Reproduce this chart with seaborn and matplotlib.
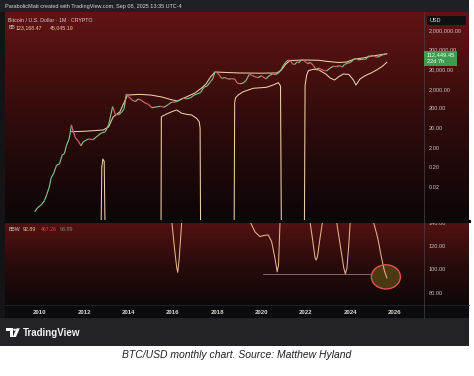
import numpy as np
import pandas as pd
import matplotlib
matplotlib.use("Agg")
import matplotlib.pyplot as plt
import seaborn as sns
from matplotlib.collections import LineCollection
from matplotlib.colors import LinearSegmentedColormap
from matplotlib.patches import Rectangle, Ellipse, Polygon, Circle
from matplotlib.lines import Line2D
from matplotlib.ticker import NullLocator

# ---------------- data ----------------
price_year = [2009.76, 2009.90, 2010.05, 2010.20, 2010.30, 2010.42, 2010.50, 2010.62, 2010.75, 2010.88,
              2011.00, 2011.10, 2011.20, 2011.30, 2011.35, 2011.42, 2011.50, 2011.60, 2011.72, 2011.85,
              2011.95, 2012.10, 2012.20, 2012.40, 2012.60, 2012.75, 2012.95, 2013.10, 2013.28, 2013.40,
              2013.55, 2013.70, 2013.80, 2013.90, 2014.00, 2014.15, 2014.30, 2014.45, 2014.60, 2014.75,
              2014.90, 2015.05, 2015.25, 2015.45, 2015.60, 2015.80, 2015.95, 2016.10, 2016.30, 2016.45,
              2016.60, 2016.80, 2016.95, 2017.10, 2017.25, 2017.40, 2017.55, 2017.70, 2017.80, 2017.90,
              2017.98, 2018.10, 2018.20, 2018.35, 2018.50, 2018.65, 2018.80, 2018.90, 2019.00, 2019.15,
              2019.30, 2019.45, 2019.55, 2019.70, 2019.85, 2020.00, 2020.20, 2020.35, 2020.50, 2020.65,
              2020.80, 2020.90, 2021.00, 2021.10, 2021.20, 2021.30, 2021.40, 2021.50, 2021.60, 2021.70,
              2021.80, 2021.90, 2022.00, 2022.10, 2022.20, 2022.35, 2022.45, 2022.60, 2022.70, 2022.85,
              2022.95, 2023.10, 2023.25, 2023.40, 2023.50, 2023.65, 2023.75, 2023.90, 2024.00, 2024.15,
              2024.25, 2024.35, 2024.50, 2024.60, 2024.70, 2024.85, 2024.95, 2025.05, 2025.15, 2025.25,
              2025.35, 2025.45, 2025.55, 2025.60, 2025.66]
price_value = [0.0011, 0.0018, 0.0024, 0.004, 0.008, 0.02, 0.057, 0.1, 0.26, 0.3,
               0.85, 1.0, 2.7, 5, 9, 29, 14, 6.4, 4.5, 2.5,
               4, 5, 5.6, 5.2, 8, 11, 13, 30, 250, 100,
               95, 135, 200, 1100, 800, 550, 450, 620, 500, 380,
               320, 220, 240, 260, 230, 320, 430, 420, 530, 670,
               620, 700, 960, 1100, 1300, 2400, 2800, 4700, 6400, 14000,
               13800, 10000, 6900, 7500, 6300, 6600, 6300, 4000, 3700, 3800,
               5300, 10800, 10000, 8300, 7500, 9300, 6400, 9400, 11300, 10700,
               13800, 19700, 33000, 45000, 58000, 57000, 37000, 35000, 47000, 43000,
               61000, 57000, 46000, 38000, 45000, 31000, 20000, 23000, 19500, 17000,
               16500, 23000, 28400, 27200, 30400, 26000, 34500, 42000, 42500, 61000,
               71000, 60600, 62700, 64600, 63300, 96400, 93400, 102000, 84300, 82500,
               94200, 107000, 115000, 115700, 112449.45]

upper_year = [2011.43, 2012.00, 2012.85, 2013.10, 2013.30, 2013.60, 2013.85, 2013.95, 2014.50, 2015.00,
              2015.50, 2015.90, 2016.20, 2016.60, 2017.00, 2017.30, 2017.50, 2017.70, 2017.90, 2018.20,
              2019.00, 2020.00, 2020.70, 2020.90, 2021.10, 2021.30, 2022.00, 2022.60, 2023.00, 2023.50,
              2023.85, 2024.20, 2024.60, 2025.00, 2025.30, 2025.66]
upper_value = [13.1, 13.8, 16, 23, 74, 132, 540, 970, 1050, 970,
               770, 575, 480, 770, 1230, 2230, 3580, 8100, 14500, 14000,
               12900, 12600, 12900, 18300, 37000, 56000, 59000, 57000, 49700, 44000,
               46800, 66500, 74800, 94700, 106000, 123168.47]

# lower band: 1e-6 stands for a negative band value (falls off the log scale)
lower_year = [2011.43, 2012.74, 2012.79, 2012.84, 2012.90, 2012.96,
              2015.46, 2015.48, 2015.72, 2015.95, 2016.17, 2016.40, 2016.62, 2016.85, 2017.07, 2017.19, 2017.23, 2017.26,
              2018.76, 2018.79, 2018.83, 2018.95, 2019.18, 2019.63, 2020.23, 2020.53, 2020.76, 2020.86, 2020.91,
              2021.93, 2021.97, 2022.04, 2022.12, 2022.35, 2022.60, 2022.90, 2023.10, 2023.30, 2023.50, 2023.70,
              2023.95, 2024.15, 2024.27, 2024.45, 2024.70, 2024.95, 2025.20, 2025.45, 2025.66]
lower_value = [1e-6, 1e-6, 0.2, 0.53, 0.4, 1e-6,
               1e-6, 76, 105, 137, 168, 114, 101, 93, 63, 42, 20, 1e-6,
               1e-6, 400, 700, 975, 1435, 2140, 2400, 3150, 4130, 2800, 1e-6,
               1e-6, 3000, 10000, 17000, 20000, 18300, 11500, 7170, 5660, 8500, 11500,
               10800, 5660, 3150, 6370, 9600, 12900, 18300, 27700, 45045.19]

# BBW: values above the panel (300) are off-scale
bbw_year = [2015.80, 2015.95, 2016.08, 2016.17, 2016.22, 2016.28, 2016.34, 2016.40, 2016.55,
            2019.35, 2019.48, 2019.71, 2019.93, 2020.11, 2020.31, 2020.46, 2020.61, 2020.71, 2020.77, 2020.84, 2021.00,
            2022.05, 2022.19, 2022.32, 2022.42, 2022.47, 2022.53, 2022.64, 2022.76, 2022.90,
            2023.25, 2023.39, 2023.58, 2023.72, 2023.79, 2023.86, 2023.94, 2024.01, 2024.15,
            2024.90, 2025.05, 2025.25, 2025.40, 2025.55, 2025.66]
bbw_value = [300, 141, 117, 102, 97.5, 108, 124, 141, 300,
             300, 141, 132, 128, 129, 129.4, 123.7, 109.4, 98, 103.7, 141, 300,
             300, 141, 124, 110, 108, 111, 126, 141, 300,
             300, 141, 118, 101, 96.3, 101, 120, 141, 300,
             300, 141, 127, 112, 99, 92.89]

support_years = [2020.08, 2024.90]
support_values = [96.5, 96.5]

year_ticks = [2010, 2012, 2014, 2016, 2018, 2020, 2022, 2024, 2026]
price_ticks = [0.02, 0.2, 2, 20, 200, 2000, 20000, 200000, 2000000]
price_tick_labels = ["0.02", "0.20", "2.00", "20.00", "200.00", "2,000.00",
                     "20,000.00", "200,000.00", "2,000,000.00"]
bbw_ticks = [80, 100, 120, 140]
bbw_tick_labels = ["80.00", "100.00", "120.00", "140.00"]

header = "ParabolicMatt created with TradingView.com, Sep 08, 2025 13:35 UTC-4"
symbol_title = "Bitcoin / U.S. Dollar · 1M · CRYPTO"
bb_values = ["123,168.47", "45,045.19"]
bbw_values = ["92.89", "467.26", "93.89"]
last_price_label = "112,449.45"
countdown_label = "22d 7h"
caption = "BTC/USD monthly chart. Source: Matthew Hyland"

# ---------------- figure ----------------
plt.rcParams['font.family'] = ['Liberation Sans', 'DejaVu Sans']
W, H = 474, 376
fig = plt.figure(figsize=(W / 100, H / 100), dpi=100)
fig.patch.set_facecolor('white')


def rect_px(x0, y0, x1, y1):
    return [x0 / W, 1 - y1 / H, (x1 - x0) / W, (y1 - y0) / H]


def P(x, y):
    return (x / W, 1 - y / H)


def add_box(x0, y0, x1, y1, color, z=-5):
    fig.patches.append(Rectangle((x0 / W, 1 - y1 / H), (x1 - x0) / W, (y1 - y0) / H,
                                 transform=fig.transFigure, facecolor=color,
                                 edgecolor='none', zorder=z))


add_box(0, 0, 469, 346, '#141417')
add_box(0, 0, 469, 12, '#1f2026')
add_box(0, 318, 469, 346, '#232327')
add_box(5, 305, 469, 318, '#0b0b0d')

cm_main = LinearSegmentedColormap.from_list('m', [(0, '#0c0607'), (0.45, '#2e0b0b'), (1, '#621414')])
cm_low = LinearSegmentedColormap.from_list('l', [(0, '#0e0708'), (0.5, '#2b0b0b'), (1, '#541212')])
grad = np.linspace(1, 0, 256).reshape(-1, 1)
for rc, cm in [((5, 12, 469, 221), cm_main), ((5, 221, 469, 305), cm_low)]:
    bg = fig.add_axes(rect_px(*rc), zorder=-1)
    bg.imshow(grad, cmap=cm, aspect='auto', extent=[0, 1, 0, 1], vmin=0, vmax=1)
    bg.axis('off')

band_color = '#ecd0a6'
bbw_color = '#e6b48c'
up_color = '#7fc08a'
down_color = '#d56868'
xlim = (2008.42, 2027.34)

# ---- main price panel ----
ax = fig.add_axes(rect_px(5, 12, 424, 221), zorder=1)
ax.set_facecolor('none')
ax.set_yscale('log')
ax.set_xlim(*xlim)
ax.set_ylim(3.7e-4, 1.65e7)

segs, cols = [], []
for i in range(1, len(price_year)):
    segs.append([(price_year[i - 1], price_value[i - 1]), (price_year[i], price_value[i])])
    cols.append(up_color if price_value[i] >= price_value[i - 1] else down_color)
ax.add_collection(LineCollection(segs, colors=cols, linewidths=0.85, zorder=3))

df_up = pd.DataFrame({'year': upper_year, 'value': upper_value})
df_lo = pd.DataFrame({'year': lower_year, 'value': lower_value})
sns.lineplot(data=df_up, x='year', y='value', ax=ax, color=band_color, lw=0.75,
             estimator=None, sort=False, zorder=2)
sns.lineplot(data=df_lo, x='year', y='value', ax=ax, color=band_color, lw=0.75,
             estimator=None, sort=False, zorder=2)
ax.set_xlim(*xlim)
ax.set_ylim(3.7e-4, 1.65e7)
ax.set_xlabel('')
ax.set_ylabel('')
for s in ax.spines.values():
    s.set_visible(False)
ax.yaxis.tick_right()
ax.set_yticks(price_ticks)
ax.set_yticklabels(price_tick_labels)
ax.yaxis.set_minor_locator(NullLocator())
ax.set_xticks([])
ax.tick_params(axis='y', length=0, pad=3.5, labelsize=4.1, labelcolor='#c4c4c4')

# ---- BBW panel ----
axb = fig.add_axes(rect_px(5, 221, 424, 305), zorder=1)
axb.set_facecolor('none')
axb.set_xlim(*xlim)
axb.set_ylim(69.7, 141.3)
df_bbw = pd.DataFrame({'year': bbw_year, 'value': bbw_value})
sns.lineplot(data=df_bbw, x='year', y='value', ax=axb, color=bbw_color, lw=0.75,
             estimator=None, sort=False, zorder=3)
axb.plot(support_years, support_values, color='#8c8c8c', lw=0.55, zorder=2)
axb.add_patch(Ellipse((bbw_year[-1] - 0.04, bbw_value[-1] + 0.8), 1.31, 20.6,
                      facecolor=(0.36, 0.29, 0.08, 0.75), edgecolor='none', zorder=2.5))
axb.add_patch(Ellipse((bbw_year[-1] - 0.04, bbw_value[-1] + 0.8), 1.31, 20.6,
                      facecolor='none', edgecolor='#e35252', lw=1.0, zorder=4))
axb.set_xlim(*xlim)
axb.set_ylim(69.7, 141.3)
axb.set_xlabel('')
axb.set_ylabel('')
for s in axb.spines.values():
    s.set_visible(False)
axb.yaxis.tick_right()
axb.set_yticks(bbw_ticks)
axb.set_yticklabels(bbw_tick_labels)
axb.set_xticks(year_ticks)
axb.set_xticklabels([str(y) for y in year_ticks])
axb.tick_params(axis='y', length=0, pad=3.5, labelsize=4.1, labelcolor='#c4c4c4')
axb.tick_params(axis='x', length=0, pad=3.6, labelsize=4.4, labelcolor='#d6d6d6')
for lbl in axb.get_xticklabels():
    lbl.set_fontweight('bold')

# separators
fig.add_artist(Line2D([5 / W, 469 / W], [1 - 221 / H] * 2, color='#0a0a0b', lw=2.2, zorder=6))
fig.add_artist(Line2D([5 / W, 469 / W], [1 - 305 / H] * 2, color='#2a2a2d', lw=0.5, zorder=6))
fig.add_artist(Line2D([424 / W] * 2, [1 - 12 / H, 1 - 318 / H], color='#4a4246', lw=0.5, zorder=6))

# ---- texts ----
fig.text(*P(5, 6.5), header, fontsize=3.95, color='#d9d9d9', va='center', ha='left')
fig.text(*P(8.3, 20), symbol_title, fontsize=3.8, color='#cfcfcf', va='center', ha='left')
fig.text(*P(8.3, 27.5), "BB", fontsize=3.8, color='#cfcfcf', va='center', ha='left')
fig.text(*P(15.7, 27.5), bb_values[0], fontsize=3.8, color='#f0cfa6', va='center', ha='left')
fig.text(*P(50, 27.5), bb_values[1], fontsize=3.8, color='#f0cfa6', va='center', ha='left')
fig.text(*P(8.3, 229.7), "BBW", fontsize=3.8, color='#cfcfcf', va='center', ha='left')
fig.text(*P(22.7, 229.7), bbw_values[0], fontsize=3.8, color='#f0c090', va='center', ha='left')
fig.text(*P(40.7, 229.7), bbw_values[1], fontsize=3.8, color='#e04545', va='center', ha='left')
fig.text(*P(60, 229.7), bbw_values[2], fontsize=3.8, color='#7f877f', va='center', ha='left')

# USD box
add_box(426.5, 16.5, 465.5, 25, '#101013', z=10)
fig.text(*P(430, 20.8), "USD", fontsize=4, color='#e8e8e8', va='center', ha='left', zorder=11)
# last price box
add_box(424, 51, 456.5, 65.5, '#3e9c4f', z=10)
fig.text(*P(427, 55), last_price_label, fontsize=4.1, color='white', va='center', ha='left', zorder=11)
fig.text(*P(427, 61.5), countdown_label, fontsize=4.1, color='white', va='center', ha='left', zorder=11)

# TradingView logo + wordmark
fig.patches.append(Polygon([P(6, 328.3), P(12.6, 328.3), P(12.6, 337), P(9.9, 337), P(9.9, 330.9), P(6, 330.9)],
                           closed=True, transform=fig.transFigure, facecolor='white', edgecolor='none', zorder=10))
fig.patches.append(Circle(P(14.6, 329.7), 1.35 / W, transform=fig.transFigure, facecolor='white', zorder=10))
fig.patches.append(Polygon([P(16.6, 328.3), P(19.8, 328.3), P(15.9, 337), P(12.8, 337)],
                           closed=True, transform=fig.transFigure, facecolor='white', edgecolor='none', zorder=10))
fig.text(*P(22.5, 332.8), "TradingView", fontsize=7, fontweight='bold', color='#f2f2f2',
         va='center', ha='left', zorder=11)

fig.text(*P(237, 354.5), caption, fontsize=7.5, fontstyle='italic', family=['Liberation Sans', 'DejaVu Sans'],
         color='#222222', va='center', ha='center')

fig.savefig('out.png', dpi=100, facecolor=fig.get_facecolor())
